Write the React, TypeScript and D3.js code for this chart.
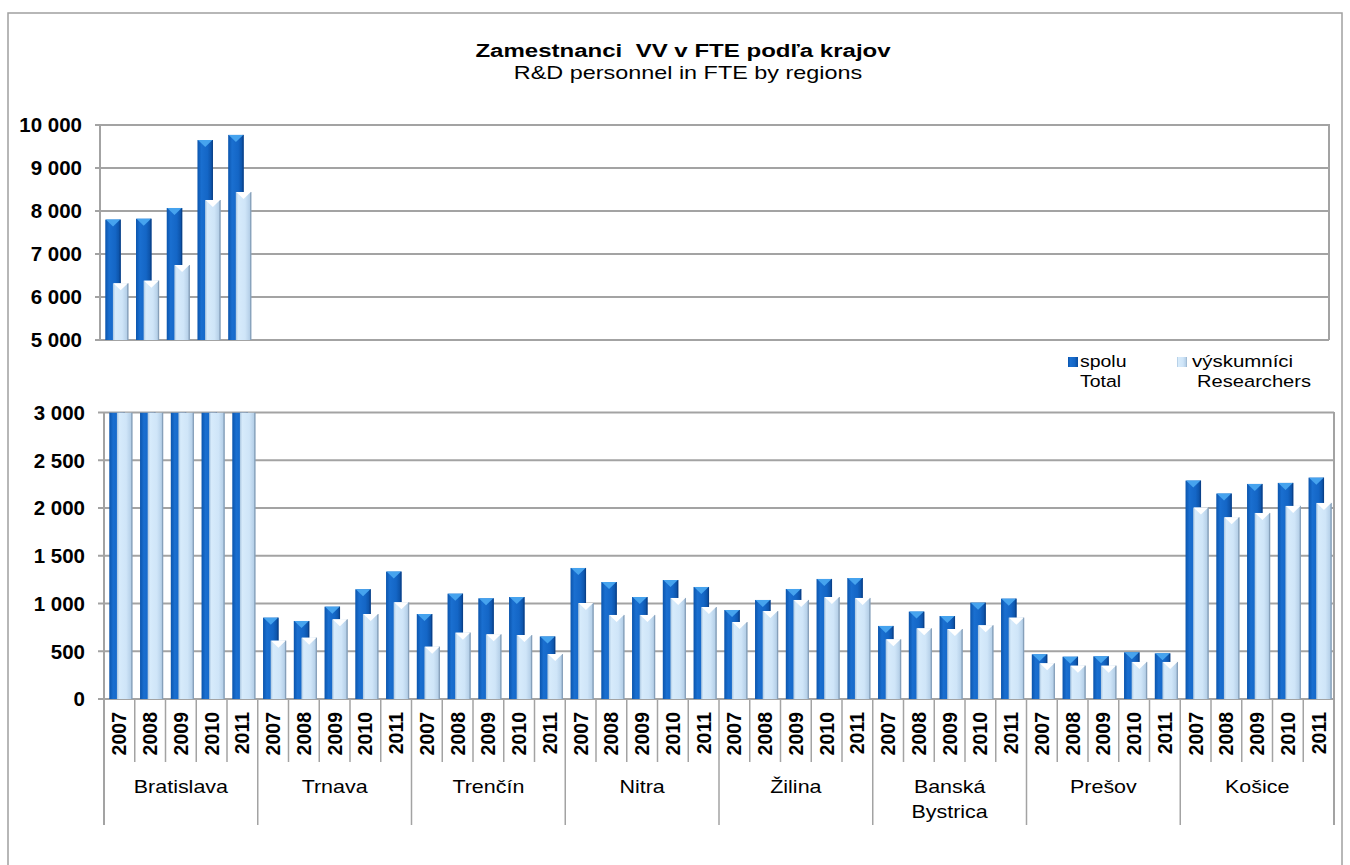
import React from "react";
import * as d3 from "d3";

const regions = ["Bratislava", "Trnava", "Trenčín", "Nitra", "Žilina", "Banská|Bystrica", "Prešov", "Košice"];
const years = ["2007", "2008", "2009", "2010", "2011"];

const totalValues = [
  7800, 7820, 8070, 9650, 9770,
  852, 817, 967, 1149, 1334,
  890, 1103, 1054, 1068, 655,
  1372, 1225, 1068, 1246, 1173,
  932, 1037, 1152, 1257, 1267,
  765, 915, 869, 1009, 1051,
  468, 443, 447, 489, 478,
  2287, 2151, 2252, 2263, 2318,
];
const researcherValues = [
  6318, 6380, 6744, 8256, 8442,
  611, 642, 834, 890, 1013,
  548, 695, 677, 670, 471,
  1005, 880, 880, 1058, 963,
  806, 921, 1037, 1068, 1058,
  625, 740, 733, 772, 852,
  374, 349, 349, 388, 388,
  2004, 1903, 1948, 2022, 2053,
];

const topTicks = [5000, 6000, 7000, 8000, 9000, 10000];
const lowTicks = [0, 500, 1000, 1500, 2000, 2500, 3000];

const FONT = "'Liberation Sans', Arial, sans-serif";
const GRID = "#a3a3a3";
const fmt = d3.formatLocale({ thousands: " ", grouping: [3], decimal: ",", currency: ["", ""] }).format(",d");

const cats = d3.range(regions.length * years.length);

function SText(props: any) {
  const { x, y, sx = 1, children, ...rest } = props;
  return (
    <text transform={`translate(${x},${y}) scale(${sx},1)`} fontFamily={FONT} xmlSpace="preserve" style={{ whiteSpace: "pre" }} {...rest}>
      {children}
    </text>
  );
}

function Bars({ x, y }: any) {
  const bw = x.bandwidth();
  const [y0] = y.range();
  const out: any[] = [];
  cats.forEach((i: number) => {
    const series = [
      { v: totalValues[i], off: 0.172, fill: "url(#gDark)", cap: "#46a3ee", edge: "#0a3f84" },
      { v: researcherValues[i], off: 0.42, fill: "url(#gLight)", cap: "#ffffff", edge: "#7f9ab4" },
    ];
    series.forEach((s, k) => {
      const [dmin, dmax] = y.domain();
      if (s.v <= dmin) return;
      const clipped = s.v > dmax;
      const vv = Math.min(s.v, dmax);
      const top = y(vv);
      const x0 = x(i) + s.off * bw;
      const w = 0.504 * bw;
      out.push(
        <g key={`${i}-${k}`}>
          <rect x={x0} y={top} width={w} height={y0 - top} fill={s.fill} />
          <rect x={x0 + w - 1.2} y={top} width={1.2} height={y0 - top} fill={s.edge} opacity={0.8} />
          {!clipped && (
            <polygon
              points={`${x0 + 0.5},${top} ${x0 + w - 0.5},${top} ${x0 + w / 2},${top + 7}`}
              fill={s.cap}
            />
          )}
        </g>
      );
    });
  });
  return <g>{out}</g>;
}

export default function App() {
  const xTop = d3.scaleBand<number>().domain(cats).range([100, 1329]).paddingInner(0).paddingOuter(0);
  const yTop = d3.scaleLinear().domain([5000, 10000]).range([340, 125]);
  const xLow = d3.scaleBand<number>().domain(cats).range([104, 1334]).paddingInner(0).paddingOuter(0);
  const yLow = d3.scaleLinear().domain([0, 3000]).range([699, 412.5]);

  const bwL = xLow.bandwidth();

  return (
    <svg width={1350} height={865} style={{ position: "absolute", left: 0, top: 0, background: "#fff" }}>
      <defs>
        <linearGradient id="gDark" x1="0" x2="1" y1="0" y2="0">
          <stop offset="0%" stopColor="#0b55ad" />
          <stop offset="25%" stopColor="#1a6fd0" />
          <stop offset="65%" stopColor="#1466c6" />
          <stop offset="100%" stopColor="#0a4c9e" />
        </linearGradient>
        <linearGradient id="gLight" x1="0" x2="1" y1="0" y2="0">
          <stop offset="0%" stopColor="#a9c5df" />
          <stop offset="15%" stopColor="#d7ebfb" />
          <stop offset="60%" stopColor="#cfe5f8" />
          <stop offset="88%" stopColor="#b7d1e9" />
          <stop offset="100%" stopColor="#94adc6" />
        </linearGradient>
        <clipPath id="clipLow">
          <rect x={104} y={412.5} width={1230} height={286.5} />
        </clipPath>
        <clipPath id="clipTop">
          <rect x={100} y={125} width={1229} height={215} />
        </clipPath>
      </defs>

      <rect x={8} y={13} width={1334} height={900} fill="#fff" stroke="#a0a0a0" strokeWidth={1.5} />

      {/* Title */}
      <SText x={683} y={57} sx={1.3} textAnchor="middle" fontSize={18.5} fontWeight="bold" fill="#000">
        {"Zamestnanci  VV v FTE podľa krajov"}
      </SText>
      <SText x={688} y={78.5} sx={1.3} textAnchor="middle" fontSize={18} fill="#000">
        {"R&D personnel in FTE by regions"}
      </SText>

      {/* TOP PANEL */}
      {topTicks.map((t) => (
        <g key={`tt${t}`}>
          <line x1={95} x2={1329} y1={yTop(t)} y2={yTop(t)} stroke={GRID} strokeWidth={2} />
          <text x={82} y={yTop(t)} dy="0.36em" textAnchor="end" fontFamily={FONT} fontWeight="bold" fontSize={20.5} fill="#000">
            {fmt(t)}
          </text>
        </g>
      ))}
      <line x1={100} x2={100} y1={125} y2={340} stroke={GRID} strokeWidth={2} />
      <line x1={1329} x2={1329} y1={124} y2={340} stroke={GRID} strokeWidth={2} />
      <g clipPath="url(#clipTop)">
        <Bars x={xTop} y={yTop} />
      </g>

      {/* Legend */}
      <rect x={1068} y={357} width={10} height={10} fill="url(#gDark)" />
      <SText x={1080} y={367} sx={1.18} fontSize={16.5} fill="#000">spolu</SText>
      <SText x={1080} y={387} sx={1.18} fontSize={16.5} fill="#000">Total</SText>
      <rect x={1177} y={357} width={10} height={10} fill="url(#gLight)" />
      <SText x={1192} y={367} sx={1.24} fontSize={16.5} fill="#000">výskumníci</SText>
      <SText x={1197} y={387} sx={1.22} fontSize={16.5} fill="#000">Researchers</SText>

      {/* LOWER PANEL */}
      {lowTicks.map((t) => (
        <g key={`lt${t}`}>
          <line x1={98} x2={1334} y1={yLow(t)} y2={yLow(t)} stroke={GRID} strokeWidth={2} />
          <text x={85} y={yLow(t)} dy="0.36em" textAnchor="end" fontFamily={FONT} fontWeight="bold" fontSize={20.5} fill="#000">
            {fmt(t)}
          </text>
        </g>
      ))}
      <g clipPath="url(#clipLow)">
        <Bars x={xLow} y={yLow} />
      </g>
      <line x1={104} x2={104} y1={412} y2={825} stroke={GRID} strokeWidth={2} />
      <line x1={1334} x2={1334} y1={412} y2={825} stroke={GRID} strokeWidth={2} />

      {d3.range(1, cats.length).map((i) => (
        <line
          key={`sep${i}`}
          x1={xLow(i)}
          x2={xLow(i)}
          y1={699}
          y2={i % years.length === 0 ? 825 : 762}
          stroke={GRID}
          strokeWidth={1.5}
        />
      ))}

      {cats.map((i) => (
        <text
          key={`yr${i}`}
          transform={`translate(${(xLow(i) as number) + bwL / 2},712) rotate(-90)`}
          dy="0.36em"
          textAnchor="end"
          fontFamily={FONT}
          fontWeight="bold"
          fontSize={19.5}
          fill="#000"
        >
          {years[i % years.length]}
        </text>
      ))}

      {regions.map((r, gi) => {
        const cx = (xLow(gi * years.length) as number) + (bwL * years.length) / 2;
        const lines = r.split("|");
        return (
          <g key={`rg${gi}`}>
            {lines.map((ln, li) => (
              <SText key={li} x={cx} y={793 + li * 25} sx={1.16} textAnchor="middle" fontSize={18.5} fill="#000">
                {ln}
              </SText>
            ))}
          </g>
        );
      })}
    </svg>
  );
}
